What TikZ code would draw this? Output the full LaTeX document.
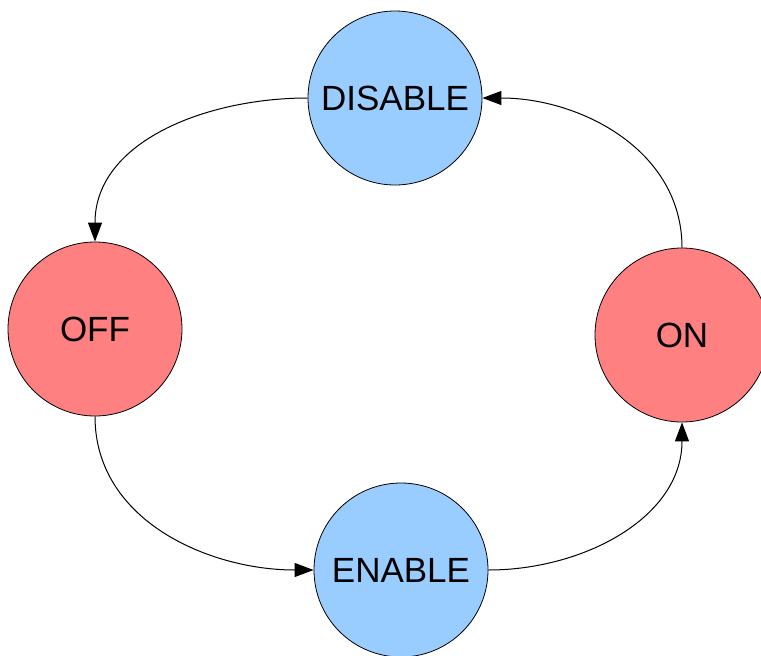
\documentclass[tikz,border=0pt]{standalone}
\usepackage{fontspec}
\setmainfont{Liberation Sans}
\usetikzlibrary{arrows.meta, positioning}

\definecolor{stateblue}{HTML}{99CCFF}
\definecolor{statered}{HTML}{FF8080}

\begin{document}
\begin{tikzpicture}[
	x=1pt, y=1pt,
	every node/.style={font=\fontsize{35}{40}\selectfont},
	state/.style={draw, circle, line width=0.8pt, minimum size=174pt, inner sep=0pt},
	blue state/.style={state, fill=stateblue},
	red state/.style={state, fill=statered},
	arrow/.style={-{Triangle[length=19pt, width=14pt]}, line width=1pt}
	]
	
	\useasboundingbox (0,0) rectangle (761,-656);
	
	% === STATES ===
	\node[blue state] (disable) at (395, -98) {DISABLE};
	\node[red state]  (off)     at (95, -329) {OFF};
	\node[blue state] (enable)  at (401, -570) {ENABLE};
	\node[red state]  (on)      at (682, -335) {ON};
	
	% === TRANSITIONS ===
	\draw[arrow] (disable.west) to[out=180, in=90] (off.north);
	\draw[arrow] (off.south) to[out=-90, in=180] (enable.west);
	\draw[arrow] (enable.east) to[out=0, in=-90] (on.south);
	\draw[arrow] (on.north) to[out=90, in=0] (disable.east);
	
\end{tikzpicture}
\end{document}
